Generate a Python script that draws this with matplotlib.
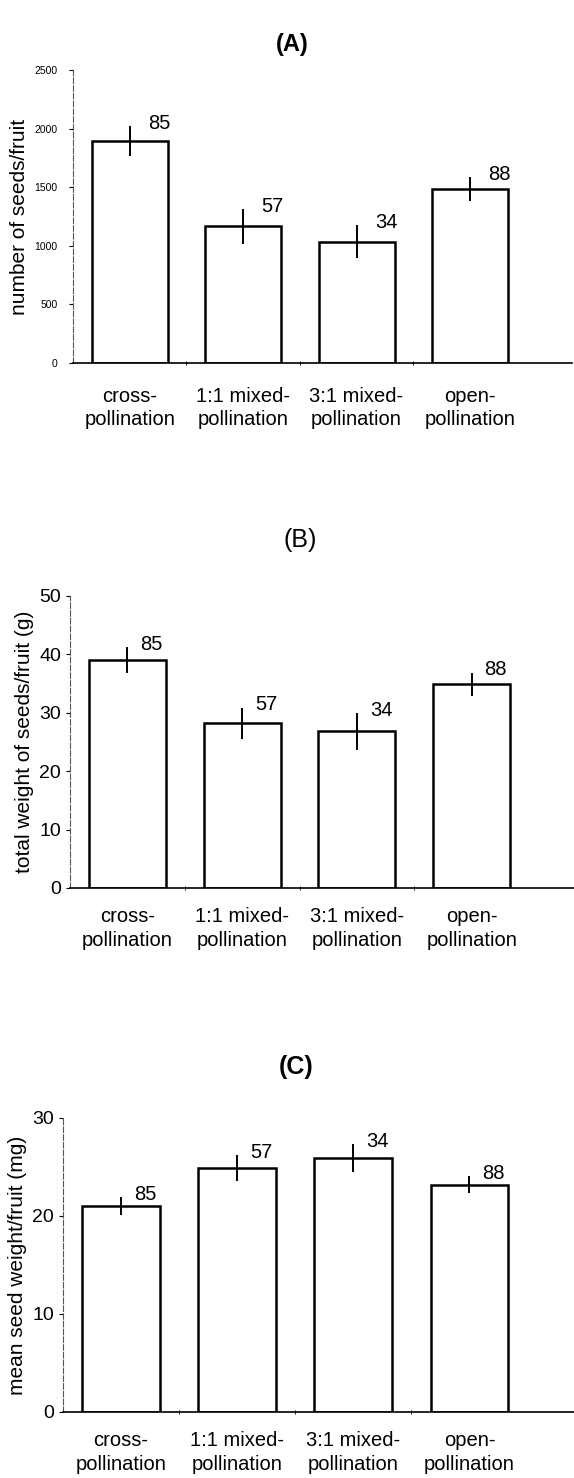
import numpy as np
import matplotlib
matplotlib.use("Agg")
import matplotlib.pyplot as plt

plt.rcParams["font.family"] = ["Liberation Sans", "DejaVu Sans"]

CATEGORIES = ["cross-\npollination", "1:1 mixed-\npollination",
              "3:1 mixed-\npollination", "open-\npollination"]
N_FRUITS = [85, 57, 34, 88]

SEEDS_MEAN = [1895, 1165, 1035, 1485]
SEEDS_ERR = [125, 150, 140, 105]

TOTAL_W_MEAN = [39.0, 28.2, 26.8, 34.9]
TOTAL_W_ERR = [2.2, 2.7, 3.1, 2.0]

MEAN_W_MEAN = [21.0, 24.9, 25.9, 23.2]
MEAN_W_ERR = [0.9, 1.3, 1.4, 0.85]

W, H = 574, 1478
fig = plt.figure(figsize=(W / 100, H / 100), dpi=100)
fig.patch.set_facecolor("white")


def px_axes(left, top, right, bottom):
    return fig.add_axes([left / W, 1 - bottom / H, (right - left) / W, (bottom - top) / H])


def panel(ax, mean, err, ymax, yticks, ylabel, tick_fs, lab_dx, xpad):
    x = np.arange(len(CATEGORIES))
    ax.bar(x, mean, width=0.67, color="white", edgecolor="black", linewidth=1.8, zorder=2)
    ax.errorbar(x, mean, yerr=err, fmt="none", ecolor="black", elinewidth=1.4,
                capsize=0, zorder=3)
    for xi, m, e, n in zip(x, mean, err, N_FRUITS):
        ax.annotate(str(n), (xi + lab_dx, m + e), xytext=(0, -5),
                    textcoords="offset points", ha="center", va="bottom",
                    fontsize=14.5)
    ax.set_xlim(-0.5, 3.9)
    ax.set_ylim(0, ymax)
    ax.set_yticks(yticks)
    ax.tick_params(axis="y", labelsize=tick_fs, length=3, width=0.8, direction="out")
    ax.set_xticks(x)
    ax.set_xticklabels(CATEGORIES, fontsize=14.5, linespacing=1.3)
    ax.tick_params(axis="x", length=0, pad=xpad)
    ax.set_xticks([0.5, 1.5, 2.5], minor=True)
    ax.tick_params(axis="x", which="minor", length=3, direction="inout")
    ax.set_ylabel(ylabel, fontsize=15, labelpad=4)
    for s in ("top", "right"):
        ax.spines[s].set_visible(False)
    ax.spines["left"].set_linestyle((0, (5, 2)))
    ax.spines["left"].set_color("#555555")
    ax.spines["left"].set_linewidth(0.8)
    ax.spines["bottom"].set_linewidth(1.2)
    ax.set_facecolor("none")


ax1 = px_axes(73, 70, 572, 363)
panel(ax1, SEEDS_MEAN, SEEDS_ERR, 2500, [0, 500, 1000, 1500, 2000, 2500],
      "number of seeds/fruit", 7.5, 0.26, 17)
ax1.tick_params(axis="y", pad=8)

ax2 = px_axes(70, 596, 575, 888)
panel(ax2, TOTAL_W_MEAN, TOTAL_W_ERR, 50, [0, 10, 20, 30, 40, 50],
      "total weight of seeds/fruit (g)", 14, 0.21, 14)

ax3 = px_axes(63, 1118, 574, 1412)
panel(ax3, MEAN_W_MEAN, MEAN_W_ERR, 30, [0, 10, 20, 30],
      "mean seed weight/fruit (mg)", 14, 0.21, 14)

fig.text(292 / W, 1 - 45 / H, "(A)", ha="center", va="center", fontsize=17, fontweight="bold")
fig.text(300 / W, 1 - 540 / H, "(B)", ha="center", va="center", fontsize=18)
fig.text(296 / W, 1 - 1067 / H, "(C)", ha="center", va="center", fontsize=18, fontweight="bold")

fig.savefig("out.png", dpi=100, facecolor="white")
